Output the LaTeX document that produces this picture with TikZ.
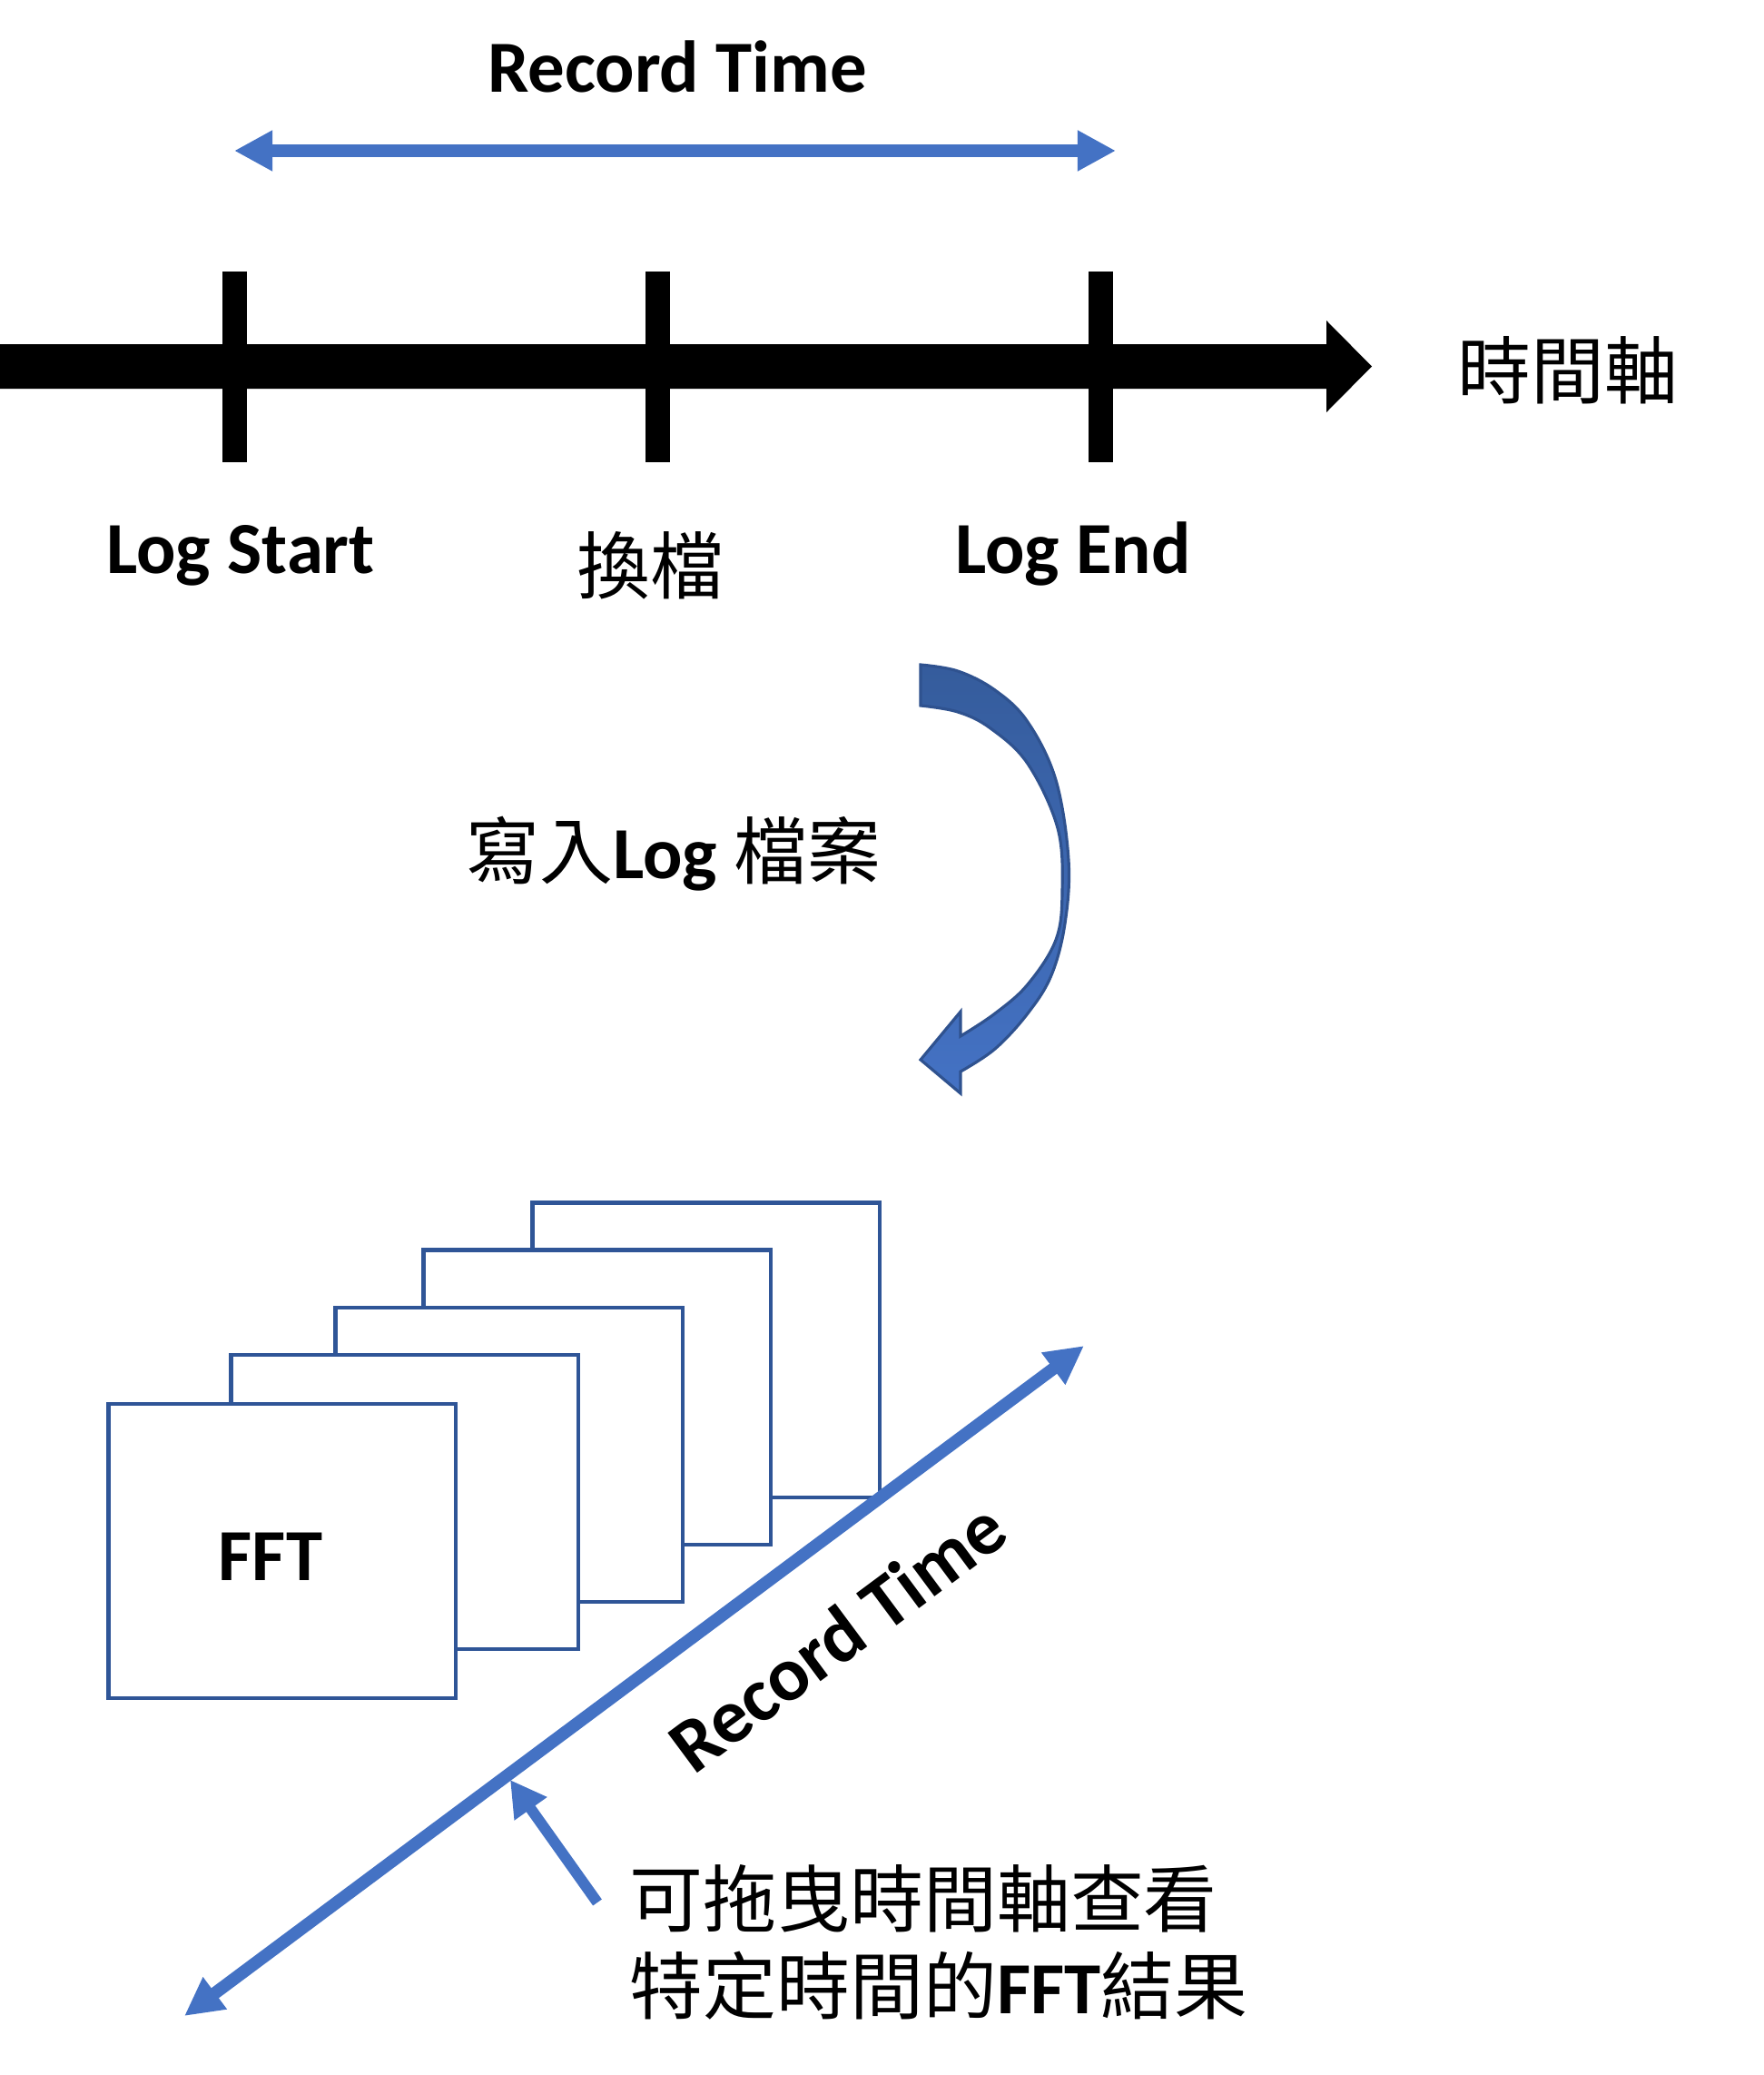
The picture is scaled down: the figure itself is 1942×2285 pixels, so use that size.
\documentclass[tikz,border=0pt]{standalone}
\usepackage{fontspec}
\setmainfont{Carlito}
\newfontfamily\cjk{Noto Sans CJK TC}
\newcommand\cjtext[1]{{\cjk\mdseries #1}}
\usetikzlibrary{arrows.meta}
\definecolor{accent}{HTML}{4472C4}
\definecolor{boxblue}{HTML}{2F5597}
\definecolor{darkblue}{HTML}{2F528F}
\definecolor{topblue}{HTML}{355C9C}
\begin{document}
\begin{tikzpicture}[x=0.01cm,y=-0.01cm,
  lbl/.style={font=\fontsize{23}{28}\selectfont\bfseries, inner sep=0pt},
  cjklbl/.style={font=\fontsize{23}{28}\selectfont\cjk, inner sep=0pt},
  frame/.style={draw=boxblue, line width=1.2pt, fill=white, minimum width=3.82cm, minimum height=3.24cm, inner sep=0pt},
  tickmark/.style={line width=7.7pt},
  blueline/.style={draw=accent, line width=4pt, {Triangle[length=12pt,width=12pt]}-{Triangle[length=12pt,width=12pt]}},
  diagline/.style={draw=accent, line width=3.9pt, {Triangle[length=12pt,width=11.7pt]}-{Triangle[length=12pt,width=11.7pt]}},
  pointer/.style={draw=accent, line width=3.4pt, -{Triangle[length=11.1pt,width=11.8pt]}},
]
\useasboundingbox (0,0) rectangle (1942,2285);

% top part
\node[lbl, anchor=base] (title) at (746,102) {Record Time};
\coordinate (rs) at (258,166);
\coordinate (re) at (1229,166);
\draw[blueline] (rs) -- (re);

\fill (0,379) -- (1461,379) -- (1461,353) -- (1511,403.5) -- (1461,454) -- (1461,428) -- (0,428) -- cycle;
\coordinate (t1) at (258.5,404);
\coordinate (t2) at (724.5,404);
\coordinate (t3) at (1212.5,404);
\foreach \t in {t1,t2,t3}{
  \draw[tickmark] ([yshift=1.05cm]\t) -- ([yshift=-1.05cm]\t);
}

\node[lbl, anchor=base] (logstart) at (265,631) {Log Start};
\node[cjklbl] (switch) at (716,623) {換檔};
\node[lbl, anchor=base] (logend) at (1182,631) {Log End};
\node[cjklbl] (axislbl) at (1727,408) {時間軸};

% curved arrow
\shadedraw[top color=topblue, bottom color=accent, draw=darkblue, line width=0.9pt, line join=miter]
  plot[smooth, tension=0.6] coordinates {(1014,732) (1055,739) (1096,760) (1132,795) (1163,859) (1177,947) (1173,1017) (1158,1074) (1132,1116) (1096,1155) (1058,1180)}
  -- (1058,1204) -- (1014,1167) -- (1058,1114)
  -- plot[smooth, tension=0.6] coordinates {(1058,1141) (1096,1116) (1132,1084) (1163,1035) (1170,982) (1165,912) (1132,841) (1091,802) (1055,784) (1014,777)}
  -- cycle;
\node[lbl] (write) at (742,940) {\cjtext{寫入}Log \cjtext{檔案}};

% stacked frames
\node[frame] (b5) at (777.5,1486.5) {};
\node[frame] (b4) at (657.5,1538.5) {};
\node[frame] (b3) at (560.5,1602) {};
\node[frame] (b2) at (445.5,1654) {};
\node[frame] (b1) at (310.5,1708) {};
\node[lbl, anchor=base] (fft) at (298,1740) {FFT};

% diagonal time arrow
\coordinate (ds) at (203,2220);
\coordinate (de) at (1194,1482);
\draw[diagline] (ds) -- (de);
\node[lbl, font=\fontsize{24}{28}\selectfont\bfseries, rotate=36.6] (rt) at (922,1802) {Record Time};

\coordinate (ptail) at (658,2095);
\coordinate (ptip) at (562,1960);
\draw[pointer] (ptail) -- (ptip);

\node[cjklbl, anchor=west] (note1) at (693,2091) {可拖曳時間軸查看};
\node[cjklbl, anchor=west] (note2) at (693,2187) {特定時間的{\fontspec{Carlito}\bfseries FFT}結果};
\end{tikzpicture}
\end{document}
